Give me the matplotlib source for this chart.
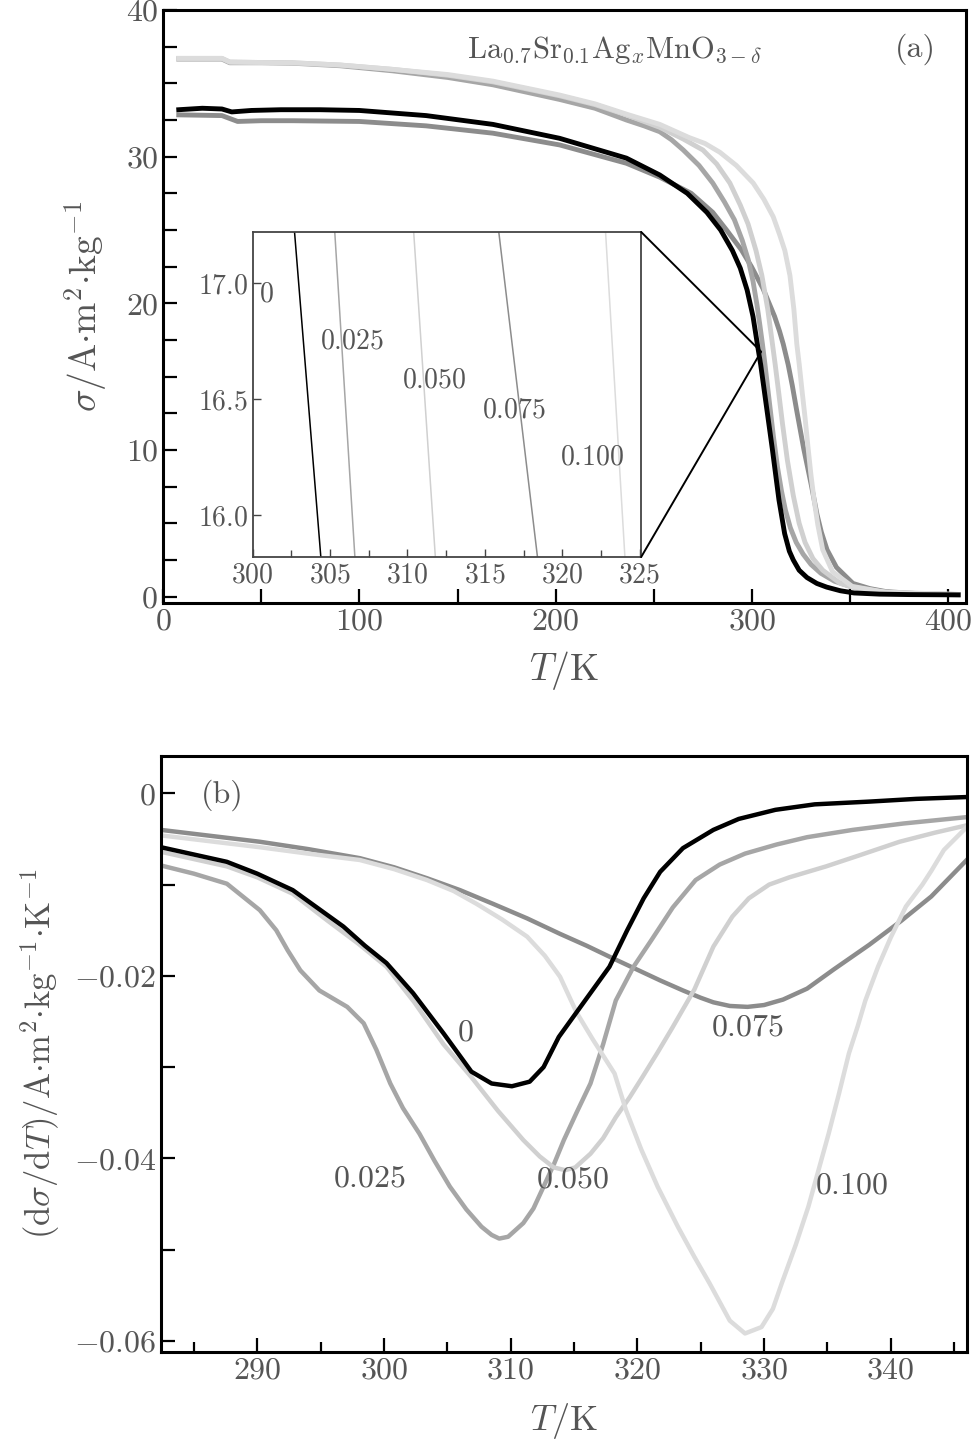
import matplotlib
matplotlib.use("Agg")
import matplotlib.pyplot as plt
from matplotlib.ticker import MultipleLocator, FuncFormatter
from matplotlib.patches import ConnectionPatch

plt.rcParams["mathtext.fontset"] = "cm"
plt.rcParams["font.family"] = "serif"
plt.rcParams["font.serif"] = ["cmr10", "DejaVu Serif"]
plt.rcParams["axes.formatter.use_mathtext"] = True

# ---- panel (a): sigma vs T ----
labels = ["0", "0.025", "0.050", "0.075", "0.100"]
colors = ["#000000", "#a6a6a6", "#d0d0d0", "#8c8c8c", "#dcdcdc"]

t_a_0 = [8, 20, 30, 35, 45, 60, 80, 100, 134, 168, 202, 236, 253, 267, 277, 284, 290, 294, 297.5,
         300.5, 302.7, 304.4, 307, 310.4, 313.7, 316.6, 319, 321, 324, 328, 333, 338, 345, 352, 365, 380, 405]
s_a_0 = [33.2, 33.3, 33.25, 33.05, 33.15, 33.2, 33.2, 33.15, 32.8, 32.2, 31.25, 29.9, 28.75, 27.5, 26.2,
         25.0, 23.6, 22.4, 20.9, 19.1, 17.22, 15.82, 13.3, 10.0, 6.6, 4.3, 3.1, 2.5, 1.8, 1.3, 0.9, 0.65,
         0.4, 0.25, 0.17, 0.14, 0.12]

t_a_025 = [8, 30, 34, 50, 66, 90, 117, 145, 168, 202, 220, 236, 245, 253, 259, 265, 273, 280, 286, 291,
           295, 298, 300.5, 302.5, 304, 305.3, 306.6, 308, 309.5, 311, 313, 315, 317, 319.5, 322.5, 326,
           330, 335, 342, 350, 365, 380, 405]
s_a_025 = [36.65, 36.65, 36.4, 36.4, 36.37, 36.2, 35.85, 35.4, 34.9, 33.9, 33.3, 32.5, 32.1, 31.7, 31.15,
           30.45, 29.4, 28.2, 26.9, 25.7, 24.3, 23.0, 21.5, 19.9, 18.5, 17.22, 15.82, 14.2, 12.5, 10.8,
           8.8, 7.2, 5.9, 4.7, 3.7, 2.9, 2.2, 1.6, 1.05, 0.7, 0.35, 0.2, 0.13]

t_a_050 = [8, 30, 34, 50, 66, 90, 117, 145, 168, 202, 220, 236, 253, 265, 275, 282, 288.7, 294, 298,
           302, 305, 308, 310.4, 311.8, 313.5, 315.5, 318, 321, 324, 327, 331, 336, 345, 355, 370, 405]
s_a_050 = [36.7, 36.7, 36.45, 36.42, 36.4, 36.25, 35.95, 35.55, 35.1, 34.15, 33.55, 32.85, 32.0, 31.2,
           30.45, 29.5, 28.2, 26.7, 25.4, 23.6, 21.9, 19.6, 17.22, 15.82, 14.0, 11.8, 9.3, 6.9, 5.0, 3.7,
           2.6, 1.8, 0.9, 0.5, 0.28, 0.14]

t_a_075 = [8, 30, 38, 50, 66, 100, 134, 168, 202, 236, 253, 269, 280, 287, 294.6, 299.7, 305.6, 311.5,
           314, 315.9, 318.4, 320.5, 322.6, 326.3, 330.2, 333.1, 335.3, 338.2, 343, 351.4, 360, 368.4,
           385, 405]
s_a_075 = [32.85, 32.8, 32.4, 32.45, 32.45, 32.4, 32.1, 31.6, 30.8, 29.55, 28.6, 27.5, 26.2, 25.0, 23.64,
           22.5, 21.0, 19.1, 18.1, 17.22, 15.82, 14.4, 12.8, 10.1, 7.6, 5.6, 4.4, 3.2, 2.0, 0.9, 0.55,
           0.34, 0.2, 0.15]

t_a_100 = [8, 30, 34, 50, 66, 90, 117, 145, 168, 202, 220, 236, 253, 268, 276, 283.6, 292, 300.6, 306,
           310.8, 314, 316.7, 319.3, 321.3, 322.8, 324.05, 325.5, 327, 328.5, 330, 331.5, 333.5, 336,
           341, 351, 368, 405]
s_a_100 = [36.7, 36.7, 36.45, 36.42, 36.4, 36.25, 35.95, 35.6, 35.15, 34.2, 33.6, 32.9, 32.2, 31.3,
           30.9, 30.3, 29.4, 28.2, 27.1, 25.9, 24.7, 23.6, 21.9, 19.6, 17.22, 15.82, 14.0, 12.2, 10.2,
           8.3, 6.7, 4.9, 3.2, 1.7, 0.7, 0.3, 0.15]

# ---- panel (b): dsigma/dT vs T ----
t_b_0 = [282.4, 285, 287.6, 290, 292.8, 295, 296.8, 298.5, 300.2, 302.3, 304.7, 306.9, 308.5, 310.1,
         311.5, 312.6, 313.8, 315.2, 316.5, 317.8, 319.2, 320.5, 321.8, 323.6, 326, 328, 330.9, 334,
         338.3, 342, 346]
d_b_0 = [-0.0059, -0.0067, -0.0075, -0.0088, -0.0106, -0.0128, -0.0146, -0.0167, -0.0186, -0.0219,
         -0.0263, -0.0305, -0.0318, -0.0321, -0.0316, -0.0300, -0.0267, -0.0240, -0.0215, -0.0190,
         -0.0150, -0.0115, -0.0086, -0.0060, -0.0040, -0.0028, -0.0018, -0.0012, -0.0009, -0.0006,
         -0.0004]

t_b_025 = [282.4, 285, 287.6, 290.2, 291.5, 292.4, 293.4, 294.9, 297.1, 298.4, 299.4, 300.5, 301.5,
           302.8, 304, 305.2, 306.5, 307.7, 308.5, 309.1, 309.8, 311, 311.8, 312.6, 313.4, 314.2, 315.2,
           316.3, 317.3, 318.3, 319.7, 321.1, 322.8, 324.6, 326.5, 328.5, 331, 333.4, 337, 341, 346]
d_b_025 = [-0.0079, -0.0088, -0.0099, -0.0128, -0.0150, -0.0172, -0.0194, -0.0216, -0.0234, -0.0252,
           -0.0281, -0.0318, -0.0345, -0.0373, -0.0403, -0.0431, -0.0456, -0.0475, -0.0484, -0.0488,
           -0.0486, -0.0471, -0.0455, -0.0431, -0.0407, -0.0380, -0.0350, -0.0318, -0.0275, -0.0227,
           -0.0190, -0.0161, -0.0125, -0.0095, -0.0078, -0.0066, -0.0056, -0.0048, -0.0040, -0.0033,
           -0.0026]

t_b_050 = [282.4, 285, 287.6, 290, 292.8, 295.5, 298, 300.2, 302.4, 304.7, 306.9, 309, 311, 312.3,
           313.4, 314.3, 315.1, 316.3, 317.3, 318.3, 319.4, 320.4, 321.6, 322.8, 324.5, 326, 327.5,
           328.8, 330.4, 332, 334.9, 337.5, 340.7, 343.5, 346]
d_b_050 = [-0.0064, -0.0072, -0.0080, -0.0092, -0.0110, -0.0139, -0.0165, -0.0190, -0.0229, -0.0275,
           -0.0311, -0.0348, -0.0380, -0.0398, -0.0410, -0.0413, -0.0410, -0.0395, -0.0378, -0.0355,
           -0.0333, -0.0311, -0.0284, -0.0256, -0.0215, -0.0168, -0.0135, -0.0115, -0.0100, -0.0092,
           -0.0080, -0.0068, -0.0053, -0.0043, -0.0035]

t_b_075 = [282.4, 286, 290.2, 294, 298.1, 300.8, 303.4, 306, 308.6, 311.3, 313.9, 316, 317.8, 319.8,
           321.8, 323.6, 325, 326, 327.3, 328.7, 330, 331.5, 333.4, 335.5, 338.3, 340.8, 343.2, 346]
d_b_075 = [-0.0040, -0.0046, -0.0053, -0.0061, -0.0071, -0.0081, -0.0093, -0.0106, -0.0121, -0.0137,
           -0.0154, -0.0167, -0.0179, -0.0192, -0.0205, -0.0216, -0.0224, -0.0229, -0.0233, -0.0234,
           -0.0232, -0.0226, -0.0214, -0.0193, -0.0166, -0.0140, -0.0113, -0.0073]

t_b_100 = [282.4, 286, 290.2, 294, 298.1, 300.8, 303.4, 305.5, 307.3, 309.3, 311.3, 312.7, 313.9, 315.2,
           316.5, 318.2, 319.1, 320.3, 321.6, 323.2, 324.5, 325.7, 327.3, 328.5, 329.8, 330.7, 331.4,
           332.5, 333.5, 334.3, 335.1, 335.9, 336.7, 337.4, 338, 339, 340, 341.2, 342.5, 343.2, 344.2, 346]
d_b_100 = [-0.0046, -0.0052, -0.0059, -0.0066, -0.0073, -0.0083, -0.0095, -0.0107, -0.0121, -0.0138,
           -0.0157, -0.0178, -0.0201, -0.0240, -0.0270, -0.0307, -0.0347, -0.0390, -0.0431, -0.0475,
           -0.0508, -0.0537, -0.0578, -0.0592, -0.0585, -0.0565, -0.0537, -0.0495, -0.0453, -0.0413,
           -0.0373, -0.0330, -0.0285, -0.0255, -0.0227, -0.0190, -0.0158, -0.0124, -0.0100, -0.0085,
           -0.0062, -0.0037]

# label positions for panel (b) and inset
lab_b_t = [306.4, 298.9, 314.9, 328.7, 336.9]
lab_b_v = [-0.0262, -0.0422, -0.0424, -0.0257, -0.0430]
lab_in_t = [300.9, 306.4, 311.7, 316.9, 321.9]
lab_in_s = [16.95, 16.75, 16.58, 16.45, 16.25]

curves_a = [(t_a_0, s_a_0), (t_a_025, s_a_025), (t_a_050, s_a_050), (t_a_075, s_a_075), (t_a_100, s_a_100)]
curves_b = [(t_b_0, d_b_0), (t_b_025, d_b_025), (t_b_050, d_b_050), (t_b_075, d_b_075), (t_b_100, d_b_100)]

txt = "#555555"
fig = plt.figure(figsize=(9.71, 14.48), dpi=100)


def style_axis(ax, size):
    ax.tick_params(which="both", direction="in", top=False, right=False, colors="black",
                   labelcolor=txt, labelsize=size, width=1.6)
    ax.tick_params(which="major", length=10)
    ax.tick_params(which="minor", length=7)
    for sp in ax.spines.values():
        sp.set_linewidth(2.2)


def mt(fmt):
    return FuncFormatter(lambda v, p: "$" + (fmt % v) + "$")


# panel (a)
ax1 = fig.add_axes([0.1679, 0.5834, 0.827, 0.4097])
draw_order = [3, 1, 2, 4, 0]
for i in draw_order:
    t, s = curves_a[i]
    ax1.plot(t, s, color=colors[i], lw=3.5, solid_joinstyle="round", zorder=2 + (i == 0))
ax1.set_xlim(0, 409)
ax1.set_ylim(-0.45, 40)
ax1.xaxis.set_major_locator(MultipleLocator(100))
ax1.xaxis.set_minor_locator(MultipleLocator(50))
ax1.yaxis.set_major_locator(MultipleLocator(10))
ax1.yaxis.set_minor_locator(MultipleLocator(2.5))
ax1.xaxis.set_major_formatter(mt("%d"))
ax1.yaxis.set_major_formatter(mt("%d"))
style_axis(ax1, 23)
ax1.tick_params(which="minor", length=10)
ax1.set_xlabel(r"$T/\mathrm{K}$", fontsize=27, color=txt, labelpad=10)
ax1.set_ylabel(r"$\sigma/\mathrm{A{\cdot}m^2{\cdot}kg^{-1}}$", fontsize=27, color=txt, labelpad=12)
ax1.text(230, 37.3, r"$\mathrm{La_{0.7}Sr_{0.1}Ag}_x\mathrm{MnO}_{3-\delta}$", fontsize=22,
         color=txt, ha="center", va="center")
ax1.text(383, 37.3, "(a)", fontsize=23, color=txt, ha="center", va="center")

# inset
ins = fig.add_axes([0.2603, 0.6153, 0.4, 0.2245])
for i in draw_order:
    t, s = curves_a[i]
    ins.plot(t, s, color=colors[i], lw=1.1)
ins.set_xlim(300, 325.1)
ins.set_ylim(15.82, 17.22)
ins.xaxis.set_major_locator(MultipleLocator(5))
ins.xaxis.set_minor_locator(MultipleLocator(2.5))
ins.yaxis.set_major_locator(MultipleLocator(0.5))
ins.xaxis.set_major_formatter(mt("%d"))
ins.yaxis.set_major_formatter(mt("%.1f"))
ins.tick_params(which="both", direction="in", top=False, right=False, colors="#444444",
                labelcolor=txt, labelsize=20, width=1.0)
ins.tick_params(which="major", length=6)
ins.tick_params(which="minor", length=5)
for sp in ins.spines.values():
    sp.set_linewidth(1.3)
    sp.set_color("#444444")
for i in range(5):
    ins.text(lab_in_t[i], lab_in_s[i], "$" + labels[i] + "$", fontsize=20, color=txt,
             ha="center", va="center")

for corner in [(1, 1), (1, 0)]:
    con = ConnectionPatch(xyA=corner, coordsA=ins.transAxes, xyB=(304.6, 16.7),
                          coordsB=ax1.transData, color="black", lw=1.4)
    fig.add_artist(con)

# panel (b)
ax2 = fig.add_axes([0.1658, 0.0665, 0.8298, 0.4114])
for i in draw_order:
    t, d = curves_b[i]
    ax2.plot(t, d, color=colors[i], lw=3.2, solid_joinstyle="round", zorder=2 + (i == 0))
ax2.set_xlim(282.4, 346)
ax2.set_ylim(-0.0612, 0.0041)
ax2.xaxis.set_major_locator(MultipleLocator(10))
ax2.xaxis.set_minor_locator(MultipleLocator(5))
ax2.yaxis.set_major_locator(MultipleLocator(0.02))
ax2.yaxis.set_minor_locator(MultipleLocator(0.01))
ax2.xaxis.set_major_formatter(mt("%d"))
ax2.yaxis.set_major_formatter(FuncFormatter(lambda v, p: "$0$" if abs(v) < 1e-9 else "$%.2f$" % v))
style_axis(ax2, 23)
ax2.tick_params(axis="y", which="minor", length=10)
ax2.set_xlabel(r"$T/\mathrm{K}$", fontsize=26, color=txt, labelpad=12)
ax2.set_ylabel(r"$(\mathrm{d}\sigma/\mathrm{d}T)/\mathrm{A{\cdot}m^2{\cdot}kg^{-1}{\cdot}K^{-1}}$",
               fontsize=25, color=txt, labelpad=8)
ax2.text(287.2, -0.0002, "(b)", fontsize=23, color=txt, ha="center", va="center")
for i in range(5):
    ax2.text(lab_b_t[i], lab_b_v[i], "$" + labels[i] + "$", fontsize=23, color=txt,
             ha="center", va="center")

fig.savefig("out.png", dpi=100)
